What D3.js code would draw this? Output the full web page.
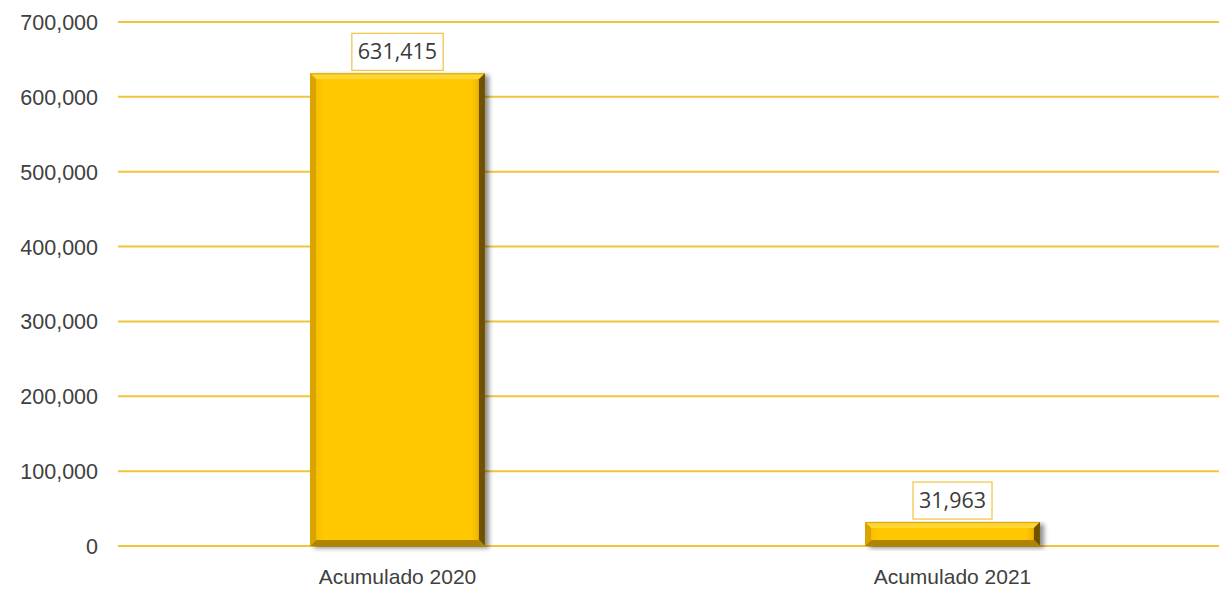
<!DOCTYPE html>
<html><head><meta charset="utf-8">
<script src="https://cdn.jsdelivr.net/npm/d3@7"></script>
<style>body{margin:0;background:#fff;} svg{display:block;font-family:"Open Sans","Noto Sans",sans-serif;}</style>
</head><body>
<svg id="c" width="1219" height="589"></svg>
<script>
const categories = ["Acumulado 2020", "Acumulado 2021"];
const values = [631415, 31963];
const tickValues = [0, 100000, 200000, 300000, 400000, 500000, 600000, 700000];

const svg = d3.select("#c");
const x = d3.scaleBand().domain(categories).range([120, 1230]).paddingInner(0.685).paddingOuter(0.3425);
const y = d3.scaleLinear().domain([0, 700000]).range([546, 22]);
const fmt = d3.format(",");

const defs = svg.append("defs");
const g1 = defs.append("linearGradient").attr("id","face").attr("x1","0").attr("x2","1").attr("y1","0").attr("y2","0");
g1.append("stop").attr("offset","0").attr("stop-color","#f2b800");
g1.append("stop").attr("offset","0.08").attr("stop-color","#ffc800");
g1.append("stop").attr("offset","0.92").attr("stop-color","#ffc800");
g1.append("stop").attr("offset","1").attr("stop-color","#e0a800");
const sh = defs.append("filter").attr("id","sh").attr("x","-10%").attr("y","-10%").attr("width","130%").attr("height","130%");
sh.append("feGaussianBlur").attr("in","SourceAlpha").attr("stdDeviation","2.5");
sh.append("feOffset").attr("dx","4").attr("dy","2").attr("result","b");
sh.append("feComponentTransfer").append("feFuncA").attr("type","linear").attr("slope","0.45");
const m = sh.append("feMerge"); m.append("feMergeNode"); m.append("feMergeNode").attr("in","SourceGraphic");

// gridlines
svg.append("g").selectAll("line").data(tickValues).join("line")
  .attr("x1", 118).attr("x2", 1219)
  .attr("y1", d => y(d)).attr("y2", d => y(d))
  .attr("stroke", "#f0c53c").attr("stroke-width", 2);

// y axis labels
const yAxis = d3.axisLeft(y).tickValues(tickValues).tickFormat(fmt).tickSize(0).tickPadding(0);
const ya = svg.append("g").attr("transform","translate(98,0)").call(yAxis);
ya.select(".domain").remove();
ya.selectAll("text").attr("font-size", 21.5).attr("fill", "#404040").attr("dy","0.35em");

// x axis labels
const xAxis = d3.axisBottom(x).tickSize(0).tickPadding(0);
const xa = svg.append("g").attr("transform","translate(0,577)").call(xAxis);
xa.select(".domain").remove();
xa.selectAll("text").attr("font-size", 21).attr("fill", "#404040").attr("dy","0.35em");

// bars
const bars = svg.append("g").selectAll("g").data(categories.map((c,i)=>({c, v: values[i]}))).join("g");
bars.append("rect").attr("filter","url(#sh)")
  .attr("x", d => x(d.c)).attr("width", x.bandwidth())
  .attr("y", d => y(d.v)).attr("height", d => y(0) - y(d.v))
  .attr("fill", "url(#face)");
const bev = 6;
// top bevel (light)
bars.append("path").attr("fill","#ffd633")
  .attr("d", d => { const x0=x(d.c), x1=x0+x.bandwidth(), t=y(d.v), b=Math.min(bev,(y(0)-y(d.v))/2);
    return `M${x0},${t}L${x1},${t}L${x1-b},${t+b}L${x0+b},${t+b}Z`; });
bars.append("line").attr("stroke","#d9a400").attr("stroke-width",1)
  .attr("x1", d => x(d.c)).attr("x2", d => x(d.c)+x.bandwidth())
  .attr("y1", d => y(d.v)+0.5).attr("y2", d => y(d.v)+0.5);
// right bevel (dark)
bars.append("path").attr("fill","#6e5200")
  .attr("d", d => { const x0=x(d.c), x1=x0+x.bandwidth(), t=y(d.v), bt=y(0), b=Math.min(bev,(bt-t)/2);
    return `M${x1},${t}L${x1},${bt}L${x1-b},${bt-b}L${x1-b},${t+b}Z`; });
// bottom bevel
bars.append("path").attr("fill","#b08400")
  .attr("d", d => { const x0=x(d.c), x1=x0+x.bandwidth(), t=y(d.v), bt=y(0), b=Math.min(bev,(bt-t)/2);
    return `M${x0},${bt}L${x1},${bt}L${x1-b},${bt-b}L${x0+b},${bt-b}Z`; });
// left bevel
bars.append("path").attr("fill","#d9a400")
  .attr("d", d => { const x0=x(d.c), t=y(d.v), bt=y(0), b=Math.min(bev,(bt-t)/2);
    return `M${x0},${t}L${x0+b},${t+b}L${x0+b},${bt-b}L${x0},${bt}Z`; });

// value labels with boxes
const lab = bars.append("g");
lab.each(function(d){
  const gg = d3.select(this);
  const cx = x(d.c) + x.bandwidth()/2;
  const bottom = y(d.v) - 3;
  const h = 37;
  const cy = bottom - h/2;
  const t = gg.append("text").attr("x", cx).attr("y", cy).attr("text-anchor","middle")
    .attr("dy","0.35em").attr("font-size",21.5).attr("fill","#3a3a3a").text(fmt(d.v));
  const bb = t.node().getBBox();
  gg.insert("rect","text").attr("x", cx - (bb.width+12)/2).attr("y", bottom - h).attr("width", bb.width+12).attr("height", h)
    .attr("fill","#fff").attr("stroke","#f0c850").attr("stroke-width",1.3);
});
</script>
</body></html>
